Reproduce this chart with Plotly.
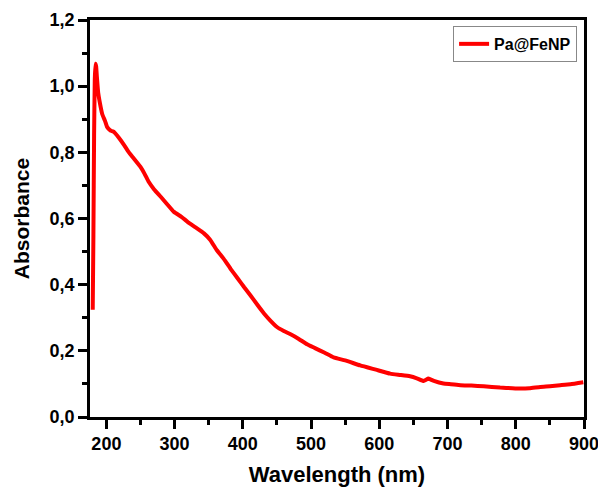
import plotly.graph_objects as go

wavelength = [180, 181, 182, 183, 184, 185, 186, 188, 190, 194, 198, 201, 206, 211, 218, 226, 233, 240, 250, 256, 262, 270, 280, 290, 299, 310, 319, 330, 343, 352, 362, 372, 382, 392, 402, 411, 421, 431, 441, 450, 460, 470, 482, 494, 505, 520, 533, 550, 572, 595, 616, 631, 645, 655, 665, 672, 680, 694, 705, 719, 735, 753, 777, 795, 807, 820, 836, 850, 865, 880, 899]
absorbance = [0.324, 0.55, 0.85, 1.02, 1.068, 1.06, 1.03, 0.98, 0.955, 0.915, 0.895, 0.877, 0.866, 0.862, 0.845, 0.822, 0.80, 0.782, 0.756, 0.735, 0.711, 0.688, 0.665, 0.641, 0.62, 0.605, 0.59, 0.574, 0.555, 0.536, 0.504, 0.478, 0.448, 0.420, 0.392, 0.368, 0.340, 0.313, 0.290, 0.272, 0.260, 0.250, 0.236, 0.220, 0.209, 0.194, 0.180, 0.171, 0.156, 0.143, 0.131, 0.127, 0.123, 0.117, 0.109, 0.116, 0.109, 0.101, 0.099, 0.096, 0.095, 0.093, 0.089, 0.087, 0.086, 0.087, 0.091, 0.093, 0.096, 0.099, 0.105]

series_name = "Pa@FeNP"
x_ticks = [200, 300, 400, 500, 600, 700, 800, 900]
y_ticks = [0.0, 0.2, 0.4, 0.6, 0.8, 1.0, 1.2]

fig = go.Figure()
fig.add_trace(go.Scatter(
    x=wavelength, y=absorbance, mode="lines", name=series_name,
    line=dict(color="#FF0000", width=4, shape="spline", smoothing=0.4),
))

font_family = "Liberation Sans, Arial, sans-serif"

fig.update_layout(
    width=598, height=488,
    margin=dict(l=90, r=14, t=20, b=71, autoexpand=False),
    paper_bgcolor="white", plot_bgcolor="white",
    separators=", ",
    font=dict(family=font_family, color="black"),
    showlegend=True,
    legend=dict(
        x=0.986, y=0.985, xanchor="right", yanchor="top",
        bordercolor="#888888", borderwidth=1, bgcolor="white",
        font=dict(family=font_family, size=16, color="black", weight="bold"),
        itemwidth=30,
        tracegroupgap=0,
    ),
)

fig.update_xaxes(
    range=[176, 900],
    tickvals=x_ticks,
    ticklabeloverflow="allow",
    automargin=False,
    showline=True, linecolor="black", linewidth=2.5, mirror=True,
    ticks="outside", ticklen=9, tickwidth=2.5, tickcolor="black",
    minor=dict(dtick=50, ticks="outside", ticklen=5, tickwidth=2.5, tickcolor="black", tick0=150),
    showgrid=False, zeroline=False,
    tickfont=dict(family=font_family, size=18, color="black", weight="bold"),
    title=dict(text="Wavelength (nm)", font=dict(family=font_family, size=22, color="black", weight="bold"), standoff=14),
)
fig.update_yaxes(
    range=[0, 1.2],
    tickvals=y_ticks, tickformat=".1f",
    automargin=False,
    showline=True, linecolor="black", linewidth=2.5, mirror=True,
    ticks="outside", ticklen=9, tickwidth=2.5, tickcolor="black",
    minor=dict(dtick=0.1, ticks="outside", ticklen=5, tickwidth=2.5, tickcolor="black"),
    showgrid=False, zeroline=False,
    tickfont=dict(family=font_family, size=18, color="black", weight="bold"),
    title=dict(text="Absorbance", font=dict(family=font_family, size=21, color="black", weight="bold"), standoff=15),
)

fig.write_html("out.html")
